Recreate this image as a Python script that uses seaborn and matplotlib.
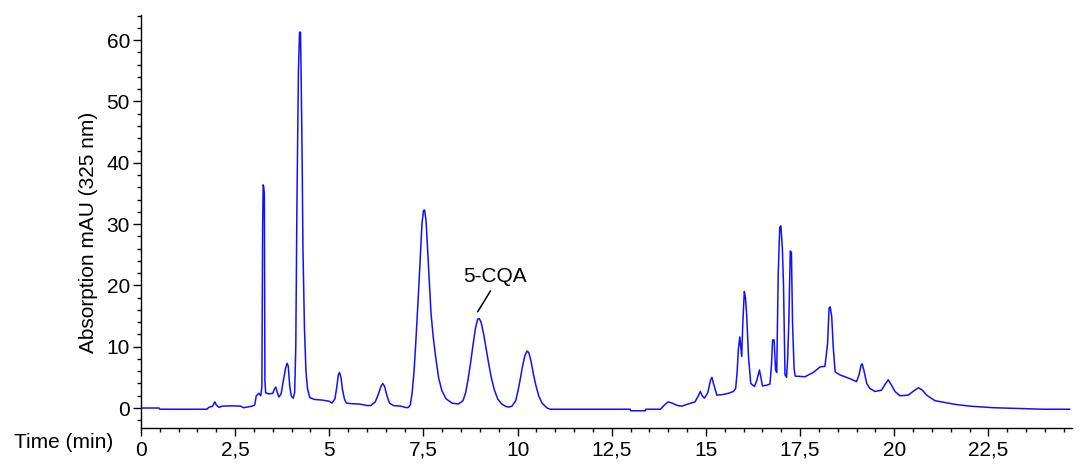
import matplotlib
matplotlib.use("Agg")
import matplotlib.pyplot as plt
from matplotlib.ticker import MultipleLocator, FixedLocator, FuncFormatter
import seaborn as sns
import pandas as pd

# Retention time (min) and absorbance (mAU at 325 nm)
time_min = [
    0.00, 0.48, 0.50, 1.75, 1.80, 1.90, 1.96, 2.00, 2.07, 2.15, 2.40, 2.65, 2.72, 2.95,
    3.02, 3.06, 3.13, 3.18, 3.21, 3.23, 3.245, 3.26, 3.275, 3.29, 3.31, 3.40, 3.50,
    3.55, 3.58, 3.62, 3.66, 3.72, 3.78, 3.84, 3.88, 3.91, 3.95, 3.99, 4.04, 4.08, 4.11,
    4.14, 4.18, 4.21, 4.235, 4.25, 4.28, 4.30, 4.34, 4.38, 4.42, 4.48, 4.60, 4.80, 5.00,
    5.07, 5.15, 5.20, 5.24, 5.27, 5.31, 5.35, 5.40, 5.45, 5.60, 5.80, 6.00,
    6.10, 6.22, 6.30, 6.37, 6.42, 6.47, 6.53, 6.60, 6.70, 6.90, 7.05,
    7.10, 7.15, 7.20, 7.25, 7.29, 7.33, 7.37, 7.42, 7.46, 7.50, 7.53, 7.57, 7.60, 7.65,
    7.70, 7.76, 7.82, 7.90, 7.99, 8.10, 8.26, 8.43,
    8.55, 8.62, 8.68, 8.75, 8.82, 8.88, 8.94, 8.98, 9.03, 9.10, 9.17, 9.23, 9.30, 9.38,
    9.47, 9.57, 9.67, 9.76,
    9.85, 9.95, 10.01, 10.07, 10.13, 10.19, 10.25, 10.30, 10.36, 10.42, 10.48, 10.56,
    10.65, 10.78, 10.87,
    12.99, 13.00, 13.39, 13.40, 13.79, 13.90, 14.00, 14.10, 14.25, 14.36, 14.50, 14.71,
    14.80, 14.85, 14.90, 14.96, 15.05, 15.12, 15.16, 15.20, 15.29, 15.45, 15.60, 15.73,
    15.79, 15.83, 15.86, 15.90, 15.95, 15.98, 16.02, 16.05, 16.08, 16.13, 16.19, 16.29,
    16.35, 16.42, 16.46, 16.50, 16.60, 16.70, 16.74, 16.77, 16.81, 16.85, 16.88, 16.92,
    16.96, 16.99, 17.03, 17.06, 17.10, 17.14, 17.17, 17.20, 17.24, 17.27, 17.30, 17.34,
    17.37, 17.63, 17.85, 18.03, 18.16, 18.23, 18.27, 18.30, 18.34, 18.38, 18.43, 18.56,
    18.82, 19.00, 19.07, 19.12, 19.15, 19.20, 19.27, 19.35, 19.49, 19.66, 19.75, 19.84,
    19.92, 20.02, 20.15, 20.37, 20.50, 20.64, 20.75, 20.86, 21.08, 21.34, 21.61, 22.01,
    22.63, 23.95, 24.66,
]
absorbance_mau = [
    0.0, 0.0, -0.2, -0.2, 0.1, 0.3, 1.0, 0.5, 0.1, 0.3, 0.35, 0.3, 0.05, 0.3,
    0.5, 2.0, 2.4, 2.0, 3.5, 30.0, 36.4, 36.0, 35.0, 4.5, 2.5, 2.3, 2.4,
    3.2, 3.4, 2.5, 1.8, 2.3, 4.5, 6.5, 7.3, 6.8, 3.5, 2.0, 1.6, 2.5, 10.0,
    33.0, 55.0, 61.3, 61.3, 55.0, 40.0, 26.0, 13.0, 6.0, 3.2, 1.7, 1.4, 1.3, 1.1,
    0.8, 1.5, 3.5, 5.4, 5.8, 5.0, 3.0, 1.5, 0.8, 0.7, 0.65, 0.4,
    0.4, 1.0, 2.2, 3.5, 4.0, 3.5, 2.0, 0.8, 0.4, 0.3, 0.05,
    0.1, 0.5, 2.5, 6.0, 10.0, 14.5, 19.0, 25.0, 30.0, 32.2, 32.3, 30.5, 27.0, 21.0,
    15.5, 11.5, 8.5, 5.0, 2.8, 1.5, 0.8, 0.65,
    1.2, 2.5, 4.5, 7.3, 10.5, 13.0, 14.5, 14.6, 14.0, 12.0, 9.5, 7.3, 5.0, 3.0,
    1.5, 0.7, 0.3, 0.15,
    0.3, 1.2, 2.8, 4.7, 6.8, 8.5, 9.3, 9.0, 7.5, 5.5, 3.8, 2.0,
    0.8, 0.0, -0.2,
    -0.2, -0.45, -0.45, -0.2, -0.2, 0.5, 1.0, 0.8, 0.4, 0.3, 0.6, 1.0,
    2.0, 2.7, 2.0, 1.6, 2.5, 4.5, 5.0, 4.0, 2.1, 2.2, 2.4, 2.7,
    3.2, 6.0, 9.5, 11.6, 8.4, 14.0, 19.0, 18.0, 15.4, 8.4, 4.0, 3.5,
    4.5, 6.2, 5.0, 3.6, 3.7, 3.9, 7.0, 11.1, 11.1, 6.2, 5.8, 22.0,
    29.5, 29.7, 26.0, 20.0, 5.4, 5.0, 8.0, 13.8, 25.6, 25.4, 13.8, 6.5,
    5.2, 5.1, 5.8, 6.7, 6.8, 10.5, 16.3, 16.5, 14.9, 10.0, 5.9, 5.4,
    4.8, 4.3, 5.5, 7.0, 7.2, 6.0, 4.0, 3.2, 2.7, 2.9, 3.8, 4.6,
    3.8, 2.7, 2.0, 2.1, 2.7, 3.3, 2.9, 2.1, 1.2, 0.9, 0.6, 0.3,
    0.05, -0.2, -0.2,
]

x_major_ticks = [0, 2.5, 5, 7.5, 10, 12.5, 15, 17.5, 20, 22.5]
y_major_ticks = [0, 10, 20, 30, 40, 50, 60]
annotation_label = "5-CQA"
annotation_peak = (8.94, 15.7)
annotation_line_top = (9.28, 19.1)
annotation_text_pos = (9.39, 21.4)

sns.set_theme(style="ticks")
plt.rcParams["font.family"] = ["Liberation Sans", "DejaVu Sans"]

df = pd.DataFrame({"t": time_min, "a": absorbance_mau})

fig = plt.figure(figsize=(10.81, 4.66), dpi=100)
ax = fig.add_axes([141 / 1081, 1 - 428 / 466, (1072 - 141) / 1081, (428 - 15) / 466])

sns.lineplot(data=df, x="t", y="a", ax=ax, color="#1010ff", linewidth=1.1,
             estimator=None, sort=False)

ax.set_xlim(0, 24.72)
ax.set_ylim(-3.26, 64.1)

ax.xaxis.set_major_locator(FixedLocator(x_major_ticks))
ax.xaxis.set_minor_locator(MultipleLocator(0.5))
ax.yaxis.set_major_locator(FixedLocator(y_major_ticks))
ax.yaxis.set_minor_locator(MultipleLocator(2))
ax.xaxis.set_major_formatter(FuncFormatter(lambda v, p: f"{v:g}".replace(".", ",")))

ax.tick_params(axis="both", which="major", direction="out", length=6, width=1,
               color="black", labelsize=15, labelcolor="black")
ax.tick_params(axis="x", which="major", pad=3)
ax.tick_params(axis="y", which="major", pad=2)
ax.tick_params(axis="both", which="minor", direction="out", length=3, width=1,
               color="black")

for side in ["top", "right"]:
    ax.spines[side].set_visible(False)
for side in ["left", "bottom"]:
    ax.spines[side].set_color("black")
    ax.spines[side].set_linewidth(1.0)

ax.set_xlabel("")
ax.set_ylabel("")
fig.text(88 / 1081, 1 - 232 / 466, "Absorption mAU (325 nm)", rotation=90,
         ha="center", va="center", fontsize=15, color="black")
fig.text(113 / 1081, 1 - 443 / 466, "Time (min)", ha="right", va="center",
         fontsize=15, color="black")

ax.annotate("", xy=annotation_peak, xytext=annotation_line_top,
            arrowprops=dict(arrowstyle="-", color="black", lw=1.1,
                            shrinkA=0, shrinkB=0))
ax.text(annotation_text_pos[0], annotation_text_pos[1], annotation_label,
        ha="center", va="center", fontsize=15, color="black")

fig.savefig("out.png", dpi=100, facecolor="white")
